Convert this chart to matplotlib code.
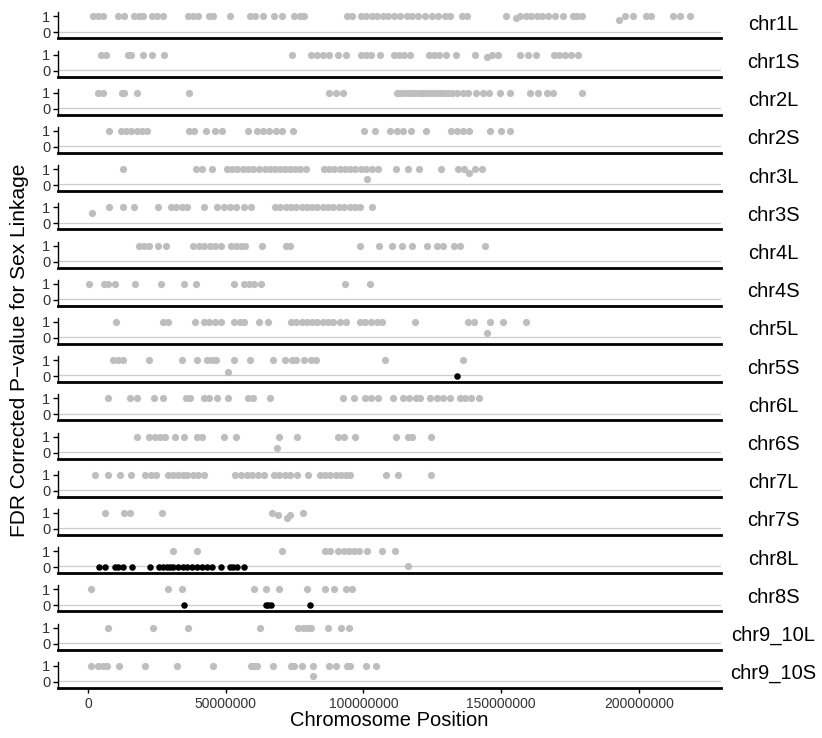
import matplotlib
matplotlib.use("Agg")
import matplotlib.pyplot as plt

plt.rcParams['font.family'] = ['Liberation Sans', 'DejaVu Sans']

# ---------------- data (positions in Mb) ----------------
chroms = ["chr1L", "chr1S", "chr2L", "chr2S", "chr3L", "chr3S", "chr4L", "chr4S",
          "chr5L", "chr5S", "chr6L", "chr6S", "chr7L", "chr7S", "chr8L", "chr8S",
          "chr9_10L", "chr9_10S"]

# points with FDR-corrected p-value of 1
chr1L_pos = [1.7, 3.5, 5.3, 11.0, 13.2, 16.8, 18.6, 19.9, 23.1, 24.9, 27.3, 36.2, 38.2, 40.0,
             44.1, 45.5, 51.6, 58.8, 60.6, 63.7, 67.5, 70.3, 74.8, 77.0, 78.4, 94.2, 96.0,
             99.0, 101.0, 103.0, 105.0, 107.0, 109.0, 111.0, 113.3, 115.8, 117.6, 119.8,
             122.4, 124.9, 127.1, 129.6, 131.4, 135.8, 137.6, 151.8, 157.0, 159.0, 161.0,
             163.0, 165.0, 167.0, 169.5, 172.5, 176.0, 177.5, 179.4, 195.0, 197.9, 202.6,
             204.4, 212.4, 214.9, 218.6]
chr1S_pos = [4.7, 6.5, 14.4, 15.6, 19.9, 23.1, 27.7, 74.2, 81.1, 83.3, 85.3, 87.6, 90.6, 93.7,
             99.1, 101.1, 102.9, 106.0, 111.0, 112.9, 114.9, 117.0, 123.7, 125.7, 127.5,
             129.8, 133.6, 140.6, 146.7, 149.0, 156.7, 159.8, 162.8, 169.0, 171.0, 173.0,
             175.4, 177.9]
chr2L_pos = [3.7, 5.6, 12.2, 13.1, 17.9, 36.8, 87.6, 89.9, 92.5, 112.0, 113.3, 114.6, 116.0,
             117.3, 118.6, 120.0, 121.3, 122.6, 124.0, 125.3, 126.6, 128.0, 129.3, 130.7,
             132.0, 134.0, 136.0, 138.0, 141.0, 143.5, 145.5, 149.6, 153.2, 160.5, 163.5,
             166.7, 168.8, 179.4]
chr2S_pos = [7.6, 12.0, 13.8, 15.7, 17.7, 19.7, 21.5, 36.6, 38.4, 42.7, 46.0, 48.8, 58.1, 61.4,
             63.6, 65.7, 68.2, 70.5, 74.5, 100.2, 104.1, 109.8, 112.1, 114.4, 117.1, 122.6,
             131.8, 133.9, 136.1, 138.2, 145.9, 149.8, 153.3]
chr3L_pos = [12.6, 39.2, 41.2, 45.0, 50.4, 52.2, 54.1, 56.1, 58.1, 59.9, 62.2, 64.2, 66.0,
             67.9, 69.7, 71.6, 73.4, 75.3, 77.1, 79.1, 85.7, 87.6, 89.4, 91.4, 93.4, 95.2,
             97.1, 99.1, 101.1, 103.2, 105.2, 111.8, 116.1, 120.3, 128.3, 134.4, 136.4,
             140.6, 142.9]
chr3S_pos = [7.7, 12.6, 16.6, 25.3, 30.0, 32.0, 34.1, 36.1, 42.2, 46.9, 49.5, 51.5, 53.8,
             56.8, 59.1, 67.9, 69.8, 71.8, 73.7, 75.6, 77.6, 79.6, 81.4, 83.3, 85.3, 87.3,
             89.1, 91.0, 93.0, 95.0, 96.8, 98.6, 103.2]
chr4L_pos = [18.4, 20.4, 22.0, 25.3, 28.4, 38.1, 40.2, 42.2, 44.2, 46.1, 48.1, 51.9, 53.8,
             55.6, 57.1, 63.0, 71.9, 73.4, 98.6, 105.7, 110.3, 114.0, 117.5, 122.9, 126.7,
             128.7, 132.9, 134.9, 144.1]
chr4S_pos = [0.3, 5.8, 7.4, 9.7, 17.2, 26.4, 34.7, 39.3, 53.0, 56.5, 58.4, 60.2, 62.7, 93.2,
             102.3]
chr5L_pos = [10.0, 27.3, 29.2, 38.7, 42.2, 43.8, 46.1, 48.4, 53.0, 55.0, 56.8, 62.2, 65.3,
             73.7, 75.6, 77.6, 79.6, 81.4, 83.3, 85.3, 87.3, 89.1, 91.4, 93.7, 98.6, 100.6,
             102.6, 104.8, 106.8, 118.6, 137.9, 140.1, 145.9, 150.8, 159.0]
chr5S_pos = [8.9, 10.8, 12.6, 22.0, 34.1, 39.6, 43.3, 44.9, 46.4, 53.0, 58.7, 67.3, 71.4,
             74.0, 75.6, 78.5, 80.8, 82.8, 107.8, 136.3]
chr6L_pos = [7.4, 15.1, 17.7, 23.8, 27.3, 35.6, 37.2, 42.2, 43.8, 46.9, 50.7, 58.1, 59.9,
             66.0, 92.5, 96.5, 100.6, 102.9, 105.2, 110.9, 114.4, 116.4, 119.0, 120.5, 124.1,
             126.7, 129.0, 131.3, 135.2, 137.0, 139.0, 141.8]
chr6S_pos = [17.7, 22.3, 24.3, 26.1, 28.0, 31.5, 35.0, 39.6, 41.2, 49.5, 53.8, 69.4, 75.7,
             90.6, 92.9, 97.1, 111.7, 116.0, 117.5, 124.7]
chr7L_pos = [2.6, 7.4, 11.5, 15.7, 20.7, 22.7, 24.6, 28.9, 30.7, 32.7, 34.6, 36.1, 38.1, 39.9,
             42.2, 53.5, 55.6, 57.6, 59.6, 61.8, 63.8, 67.6, 69.4, 71.4, 73.4, 76.0, 79.9,
             84.2, 86.0, 87.9, 89.9, 91.9, 93.7, 95.2, 108.3, 112.4, 124.4]
chr7S_pos = [6.1, 13.1, 15.1, 27.0, 66.8, 78.0]
chr8L_pos = [31.0, 39.5, 70.5, 86.0, 88.0, 90.8, 92.8, 94.8, 96.6, 98.4, 101.2, 106.7, 111.6]
chr8S_pos = [1.2, 29.2, 34.1, 60.4, 64.5, 69.3, 79.6, 86.0, 89.2, 93.5, 95.8]
chr9_10L_pos = [7.1, 23.6, 36.3, 62.3, 76.3, 78.0, 79.6, 81.0, 87.0, 91.9, 94.7]
chr9_10S_pos = [1.1, 3.5, 5.6, 6.8, 11.3, 20.7, 32.4, 45.3, 59.1, 60.3, 61.3, 67.3, 73.7,
                74.9, 77.8, 81.8, 87.6, 90.0, 93.9, 95.0, 100.9, 104.5]

# non-significant points with p-values below 1
low_chrom = ["chr1L", "chr1L", "chr1S", "chr3L", "chr3L", "chr3S", "chr5L", "chr5S",
             "chr6S", "chr7S", "chr7S", "chr7S", "chr8L", "chr9_10S"]
low_pos = [155.5, 192.8, 144.7, 101.4, 138.3, 1.5, 144.9, 51.0, 68.7, 68.8, 72.2, 73.4,
           116.0, 81.8]
low_p = [0.87, 0.78, 0.85, 0.38, 0.75, 0.65, 0.28, 0.25, 0.30, 0.85, 0.68, 0.90, 0.07, 0.35]

# significant points (p ~ 0)
sig_chrom = ["chr5S"] + ["chr8L"] * 25 + ["chr8S"] * 5
sig_pos = [134.0,
           4.1, 6.2, 9.8, 11.0, 12.8, 15.9, 22.5, 25.9, 27.3, 28.6, 29.8, 31.0, 32.8, 34.6,
           35.8, 37.7, 39.5, 41.3, 43.1, 44.9, 48.2, 51.6, 52.8, 54.2, 56.8,
           35.0, 64.5, 65.5, 66.3, 80.6]
sig_p = [0.0] * len(sig_pos)

threshold = 0.05
x_ticks = [0, 50000000, 100000000, 150000000, 200000000]
x_ticklabels = ["0", "50000000", "100000000", "150000000", "200000000"]

top_pos = {"chr1L": chr1L_pos, "chr1S": chr1S_pos, "chr2L": chr2L_pos, "chr2S": chr2S_pos,
           "chr3L": chr3L_pos, "chr3S": chr3S_pos, "chr4L": chr4L_pos, "chr4S": chr4S_pos,
           "chr5L": chr5L_pos, "chr5S": chr5S_pos, "chr6L": chr6L_pos, "chr6S": chr6S_pos,
           "chr7L": chr7L_pos, "chr7S": chr7S_pos, "chr8L": chr8L_pos, "chr8S": chr8S_pos,
           "chr9_10L": chr9_10L_pos, "chr9_10S": chr9_10S_pos}

# ---------------- figure ----------------
W, H = 822, 738
fig = plt.figure(figsize=(W / 100, H / 100), dpi=100)

left_px, right_px = 58, 720.7
panel_h = 26.0
grey = "#BEBEBE"
n = len(chroms)
for i, ch in enumerate(chroms):
    bottom_px = 38.3 + 38.2 * i
    ax = fig.add_axes([left_px / W, 1 - bottom_px / H, (right_px - left_px) / W, panel_h / H])
    ax.axhline(threshold, color="#CCCCCC", lw=0.9, zorder=1)
    xs = [v * 1e6 for v in top_pos[ch]]
    ax.scatter(xs, [1.0] * len(xs), s=27, color=grey, linewidths=0, zorder=2)
    lx = [p * 1e6 for c, p in zip(low_chrom, low_pos) if c == ch]
    ly = [q for c, q in zip(low_chrom, low_p) if c == ch]
    ax.scatter(lx, ly, s=27, color=grey, linewidths=0, zorder=2)
    sx = [p * 1e6 for c, p in zip(sig_chrom, sig_pos) if c == ch]
    sy = [q for c, q in zip(sig_chrom, sig_p) if c == ch]
    ax.scatter(sx, sy, s=22, color="black", linewidths=0, zorder=3)

    ax.set_xlim(-10.9e6, 229.7e6)
    ax.set_ylim(-0.37, 1.25)
    ax.set_yticks([0, 1])
    ax.set_yticklabels(["0", "1"])
    for s in ["top", "right"]:
        ax.spines[s].set_visible(False)
    ax.spines["bottom"].set_linewidth(2.0)
    ax.spines["left"].set_linewidth(1.0)
    ax.tick_params(axis="y", length=3.5, width=1, labelsize=10.5, colors="black",
                   labelcolor="#333333", pad=2)
    if i == n - 1:
        ax.set_xticks(x_ticks)
        ax.set_xticklabels(x_ticklabels)
        ax.tick_params(axis="x", length=3.5, width=1, labelsize=10, labelcolor="#333333",
                       pad=3)
    else:
        ax.set_xticks([])
    fig.text(773 / W, 1 - (bottom_px - panel_h / 2 - 1) / H, ch, ha="center", va="center",
             fontsize=14.5)

fig.text(389 / W, 1 - 720 / H, "Chromosome Position", ha="center", va="center", fontsize=14.5)
fig.text(20 / W, 1 - 350 / H, "FDR Corrected P\u2212value for Sex Linkage", ha="center",
         va="center", rotation=90, fontsize=15)

fig.savefig("out.png", dpi=100)
